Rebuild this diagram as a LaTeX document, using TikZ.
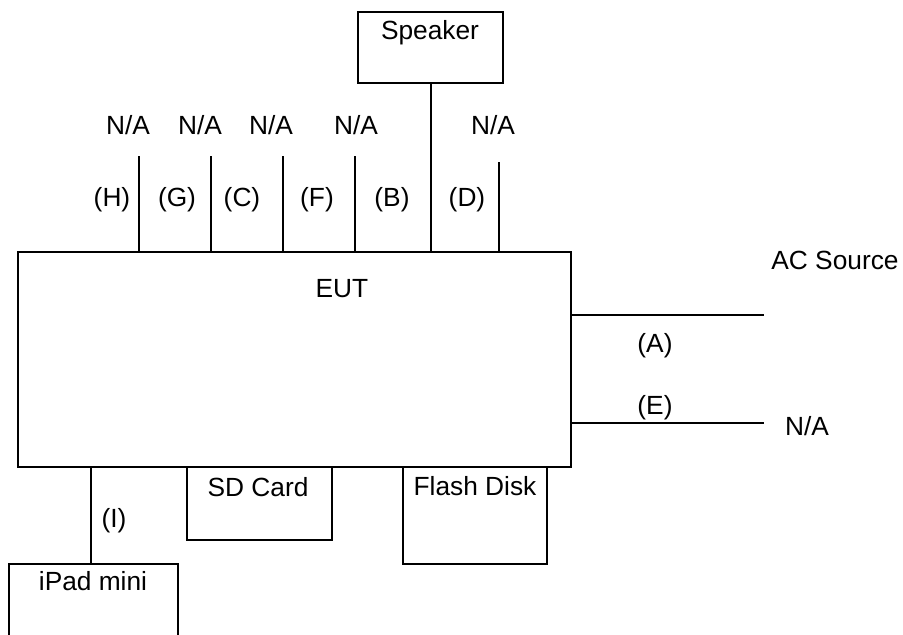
\documentclass[tikz,border=0pt]{standalone}
\usepackage{fontspec}
\setmainfont{Liberation Sans}
\begin{document}
\begin{tikzpicture}[x=1pt,y=-1pt,
  box/.style={draw,line width=1.6pt,rectangle,inner sep=0pt,minimum width=#1},
  txt/.style={anchor=base,inner sep=0pt,font=\fontsize{26.3}{31}\selectfont},
  wire/.style={line width=1.6pt}]
\clip (0,0) rectangle (903,635);
\fill[white] (0,0) rectangle (903,635);
% boxes
\node[box=553pt,minimum height=215pt] (eut) at (294.5,359.5) {};
\node[box=145pt,minimum height=71pt] (spk) at (430.5,47.5) {};
\node[box=145pt,minimum height=73pt] (sd) at (259.5,503.5) {};
\node[box=144pt,minimum height=97pt] (flash) at (475,515.5) {};
\node[box=169pt,minimum height=90pt] (ipad) at (93.5,609) {};
% box texts
\node[txt] (teut) at (342,297) {EUT};
\node[txt] (tspk) at (430,39) {Speaker};
\node[txt] (tsd) at (258,496) {SD Card};
\node[txt] (tflash) at (475,495) {Flash Disk};
\node[txt] (tipad) at (93,590) {iPad mini};
% top wires
\coordinate (wh) at (139,156);
\coordinate (wg) at (211,156);
\coordinate (wc) at (283,156);
\coordinate (wf) at (355,156);
\coordinate (wd) at (499,162);
\foreach \w in {wh,wg,wc,wf,wd}{\draw[wire] (\w) -- (\w |- eut.north);}
\draw[wire] (spk.south -| 431,0) -- (eut.north -| 431,0);
% top labels
\node[txt] (na1) at (128,134) {N/A};
\node[txt] (na2) at (200,134) {N/A};
\node[txt] (na3) at (271,134) {N/A};
\node[txt] (na4) at (356,134) {N/A};
\node[txt] (na5) at (493,134) {N/A};
\node[txt] (lh) at (112,206) {(H)};
\node[txt] (lg) at (177,206) {(G)};
\node[txt] (lc) at (242,206) {(C)};
\node[txt] (lf) at (317,206) {(F)};
\node[txt] (lb) at (392,206) {(B)};
\node[txt] (ld) at (467,206) {(D)};
% right wires
\coordinate (wa) at (764,315);
\coordinate (we) at (764,423);
\draw[wire] (wa -| eut.east) -- (wa);
\draw[wire] (we -| eut.east) -- (we);
\node[txt] (tac) at (835,269) {AC Source};
\node[txt] (la) at (655,352) {(A)};
\node[txt] (le) at (655,414) {(E)};
\node[txt] (na6) at (807,435) {N/A};
% bottom wire
\coordinate (wi) at (91,500);
\draw[wire] (wi |- eut.south) -- (wi |- ipad.north);
\node[txt] (li) at (114,527) {(I)};
\end{tikzpicture}
\end{document}
